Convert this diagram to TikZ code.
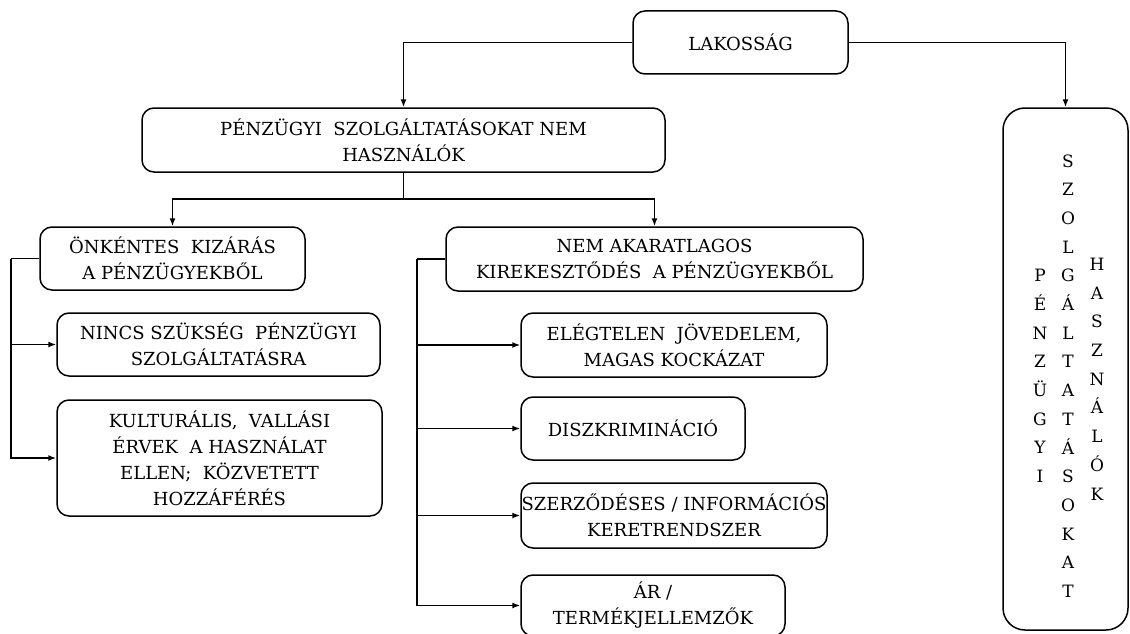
\documentclass[tikz,border=0pt]{standalone}
\usepackage{fontspec}
\setmainfont{DejaVu Serif}
\usetikzlibrary{arrows.meta}
\begin{document}
\begin{tikzpicture}[x=1pt,y=-1pt,
  box/.style={draw, line width=1.5pt, rounded corners=12pt, align=center, inner sep=0pt,
    font=\fontsize{18}{26}\selectfont},
  vert/.style={align=center, inner sep=0pt, font=\fontsize{17}{28.7}\selectfont},
  link/.style={line width=1.5pt, -{Latex[length=8pt,width=6pt]}}]
\useasboundingbox (0,0) rectangle (1130,634);
\node[box, minimum width=215pt, minimum height=63pt] (lakossag) at (740.5,42.5) {LAKOSSÁG};
\node[box, minimum width=523pt, minimum height=64pt] (nemhasznalok) at (403.5,140) {PÉNZÜGYI\ \ SZOLGÁLTATÁSOKAT NEM\\HASZNÁLÓK};
\node[box, minimum width=265pt, minimum height=63pt] (onkentes) at (172.5,258.5) {ÖNKÉNTES\ \ KIZÁRÁS\\A PÉNZÜGYEKBŐL};
\node[box, minimum width=417pt, minimum height=64pt] (nemakart) at (654.5,259) {NEM AKARATLAGOS\\KIREKESZTŐDÉS\ \ A PÉNZÜGYEKBŐL};
\node[box, minimum width=323pt, minimum height=63pt] (nincs) at (218.5,344.5) {NINCS SZÜKSÉG\ \ PÉNZÜGYI\\SZOLGÁLTATÁSRA};
\node[box, minimum width=325pt, minimum height=116pt] (kultur) at (219.5,458) {KULTURÁLIS,\ \ VALLÁSI\\ÉRVEK\ \ A HASZNÁLAT\\ELLEN;\ \ KÖZVETETT\\HOZZÁFÉRÉS};
\node[box, minimum width=306pt, minimum height=64pt] (jovedelem) at (674,345) {ELÉGTELEN\ \ JÖVEDELEM,\\MAGAS KOCKÁZAT};
\node[box, minimum width=224pt, minimum height=63pt] (diszkr) at (633,428.5) {DISZKRIMINÁCIÓ};
\node[box, minimum width=306pt, minimum height=65pt] (szerzodes) at (674,515.5) {SZERZŐDÉSES / INFORMÁCIÓS\\KERETRENDSZER};
\node[box, minimum width=264pt, minimum height=61pt] (ar) at (653,605.5) {ÁR /\\TERMÉKJELLEMZŐK};
\node[box, rounded corners=22pt, minimum width=125pt, minimum height=522pt] (hasznalok) at (1065.5,369) {};
% vertical label of the right box
\node[vert] (penzugyi) at (1040,376) {P\\É\\N\\Z\\Ü\\G\\Y\\I};
\node[vert] (szolg) at (1068,376) {S\\Z\\O\\L\\G\\Á\\L\\T\\A\\T\\Á\\S\\O\\K\\A\\T};
\node[vert] (hasz) at (1097,379) {H\\A\\S\\Z\\N\\Á\\L\\Ó\\K};
% connectors
\coordinate (split) at (403.5,199);
\coordinate (ltrunk) at (11,258.5);
\coordinate (rtrunk) at (417,259);
\draw[link] (lakossag.west) -| (nemhasznalok.north);
\draw[link] (lakossag.east) -| (hasznalok.north);
\draw[line width=1.5pt] (nemhasznalok.south) -- (split);
\draw[link] (split) -| (onkentes.north);
\draw[link] (split) -| (nemakart.north);
\draw[line width=1.5pt] (onkentes.west) -- (ltrunk);
\foreach \t in {nincs,kultur}
  \draw[link] (ltrunk) |- (\t.west);
\draw[line width=1.5pt] (nemakart.west) -- (rtrunk);
\foreach \t in {jovedelem,diszkr,szerzodes,ar}
  \draw[link] (rtrunk) |- (\t.west);
\end{tikzpicture}
\end{document}
